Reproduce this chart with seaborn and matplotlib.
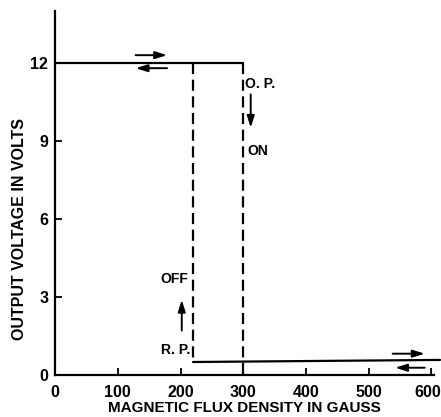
import numpy as np
import pandas as pd
import seaborn as sns
import matplotlib.pyplot as plt
from matplotlib.transforms import ScaledTranslation

# step curve of the hall switch (gauss vs volts)
upper_x = [0, 300]
upper_y = [12, 12]
lower_x = [220, 614]
lower_y = [0.5, 0.58]
rp_x = [220, 220]
rp_y = [12, 0.5]
op_x = [300, 300]
op_y = [12, 0]

x_ticks = [0, 100, 200, 300, 400, 500, 600]
y_ticks = [0, 3, 6, 9, 12]

sns.set_style("ticks")
plt.rcParams["font.family"] = ["Liberation Sans", "DejaVu Sans"]
plt.rcParams["font.weight"] = "bold"
plt.rcParams["axes.labelweight"] = "bold"
for key in ["text.color", "axes.labelcolor", "xtick.color", "ytick.color", "axes.edgecolor"]:
    plt.rcParams[key] = "black"

fig = plt.figure(figsize=(4.41, 4.17), dpi=100)
ax = fig.add_axes([0.125, 0.1007, 0.860, 0.873])

solid = pd.DataFrame({"x": upper_x + lower_x, "y": upper_y + lower_y,
                      "seg": ["up", "up", "low", "low"]})
dashed = pd.DataFrame({"x": rp_x + op_x, "y": rp_y + op_y,
                       "seg": ["rp", "rp", "op", "op"]})

sns.lineplot(data=solid, x="x", y="y", units="seg", estimator=None, sort=False,
             color="black", lw=1.6, ax=ax, clip_on=False)
sns.lineplot(data=dashed, x="x", y="y", units="seg", estimator=None, sort=False,
             color="black", lw=1.6, ax=ax, clip_on=False)
for ln in ax.lines[-2:]:
    ln.set_dashes([5, 2.5])

ax.set_xlim(0, 605)
ax.set_ylim(0, 14)
ax.set_xticks(x_ticks)
ax.set_yticks(y_ticks)
ax.tick_params(direction="in", length=5, width=1.3, labelsize=11.5)
ax.tick_params(axis="x", pad=7)
ax.tick_params(axis="y", pad=5)
# last x label sits at the figure edge
last = ax.get_xticklabels()[-1]
last.set_transform(last.get_transform() + ScaledTranslation(-4 / 100, 0, fig.dpi_scale_trans))
sns.despine(ax=ax)
for s in ["left", "bottom"]:
    ax.spines[s].set_linewidth(1.6)
ax.set_xlabel("MAGNETIC FLUX DENSITY IN GAUSS", fontsize=11, labelpad=1)
ax.set_ylabel("OUTPUT VOLTAGE IN VOLTS", fontsize=11.5)
ax.yaxis.set_label_coords(-0.075, 0.40)

arrow = dict(arrowstyle="-|>,head_length=0.7,head_width=0.22", color="black", lw=1.4)
# direction arrows along the curve
ax.annotate("", xy=(183, 12.3), xytext=(124, 12.3), arrowprops=arrow)
ax.annotate("", xy=(124, 11.8), xytext=(183, 11.8), arrowprops=arrow)
ax.annotate("", xy=(594, 0.82), xytext=(534, 0.82), arrowprops=arrow, annotation_clip=False)
ax.annotate("", xy=(538, 0.28), xytext=(594, 0.28), arrowprops=arrow, annotation_clip=False)
ax.annotate("", xy=(312, 9.4), xytext=(312, 10.9), arrowprops=arrow)
ax.annotate("", xy=(202, 3.0), xytext=(202, 1.6), arrowprops=arrow)

ax.text(303, 11.2, "O. P.", fontsize=10, va="center", ha="left")
ax.text(306, 8.6, "ON", fontsize=10, va="center", ha="left")
ax.text(213, 3.7, "OFF", fontsize=10, va="center", ha="right")
ax.text(215, 0.95, "R. P.", fontsize=10, va="center", ha="right")

fig.savefig("out.png", dpi=100)
